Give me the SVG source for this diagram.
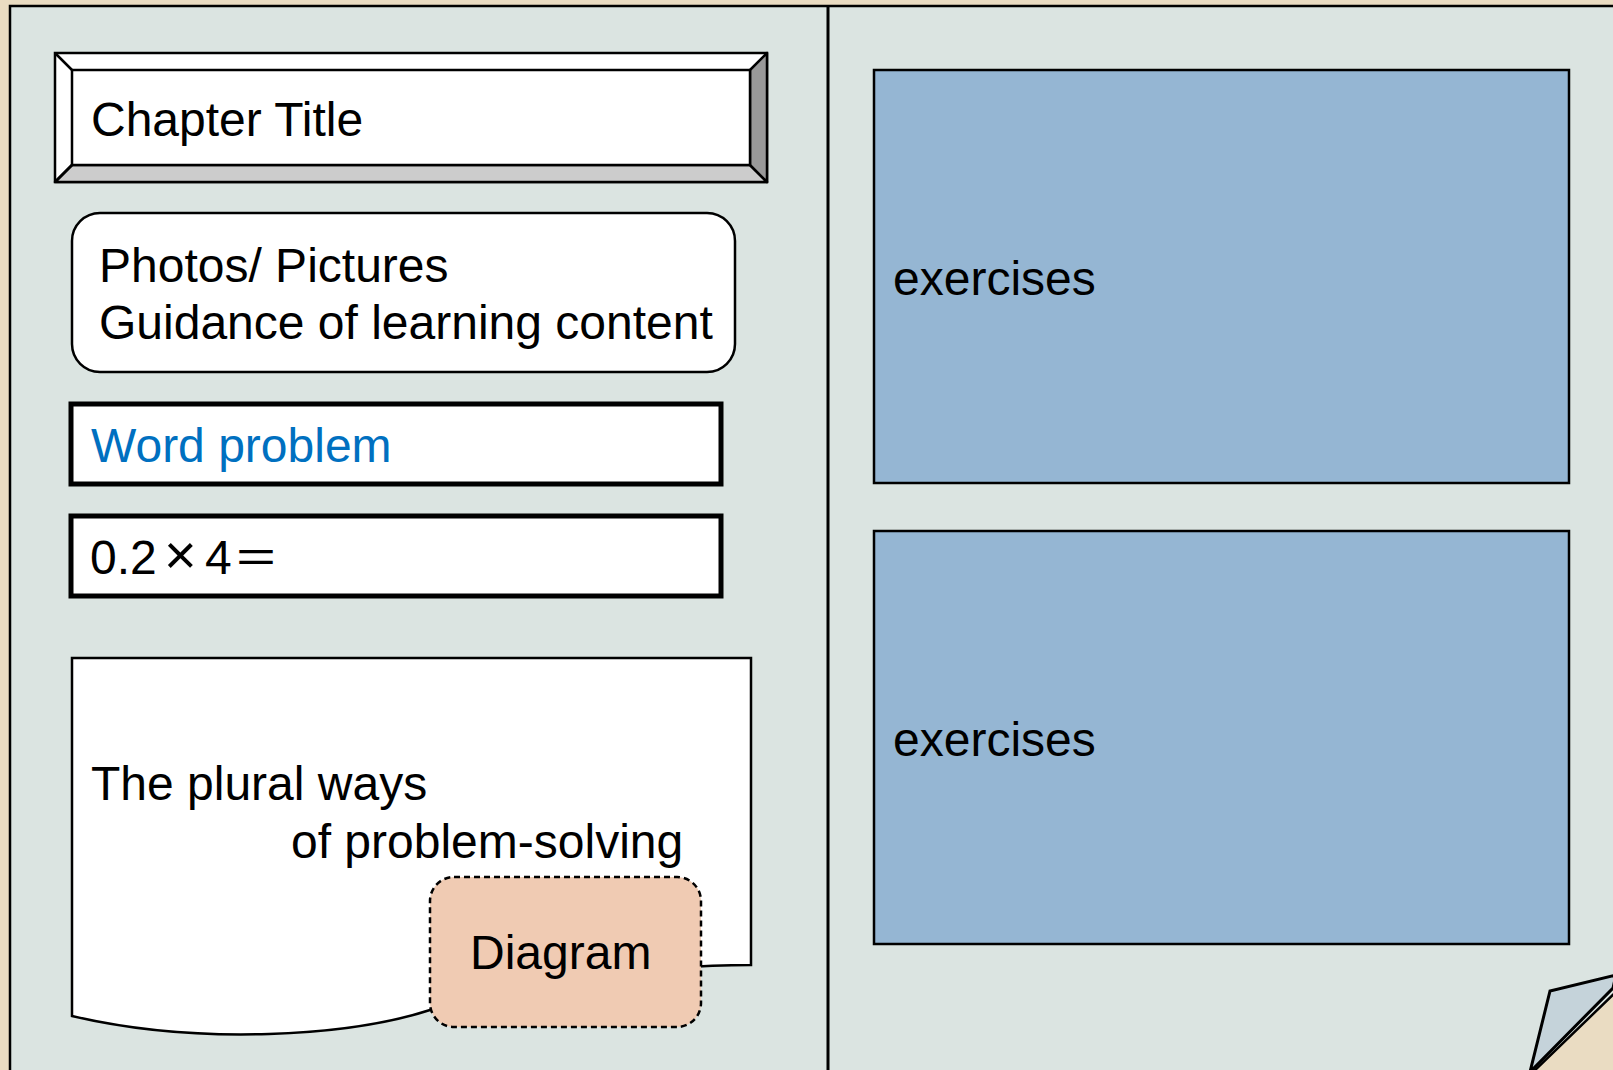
<svg xmlns="http://www.w3.org/2000/svg" width="1613" height="1070" viewBox="0 0 1613 1070">
<style>
text{font-family:"Liberation Sans",Arial,sans-serif;font-size:48px;fill:#000}
.ln{fill:none;stroke:#000;stroke-width:2.5}
.box{fill:#fff;stroke:#000;stroke-width:5}
.ex{fill:#95B6D3;stroke:#000;stroke-width:2.5}
</style>
<rect x="0" y="0" width="1613" height="1070" fill="#EADCC2"/>
<g id="page">
<path d="M10,6 H1620 V988 L1530,1075 H10 Z" fill="#DBE4E1" stroke="#000" stroke-width="2.5"/>
<path d="M1530,1072 L1550,991 L1616,975 L1613,988 Z" fill="#C5D3DA" stroke="#000" stroke-width="3" stroke-linejoin="miter"/>
<line x1="828" y1="6" x2="828" y2="1072" stroke="#000" stroke-width="3"/>
</g>
<g id="chapter-title">
<rect x="55" y="53" width="712" height="129" fill="#fff" stroke="#000" stroke-width="2.5"/>
<path d="M55,182 L72,165 H750 L767,182 Z" fill="#CCCCCC" stroke="#000" stroke-width="2.5" stroke-linejoin="round"/>
<path d="M750,70 L767,53 V182 L750,165 Z" fill="#999999" stroke="#000" stroke-width="2.5" stroke-linejoin="round"/>
<path d="M55,53 L72,70 M55,182 L72,165" class="ln"/>
<rect x="72" y="70" width="678" height="95" fill="#fff" stroke="#000" stroke-width="2.5"/>
<text x="91" y="136">Chapter Title</text>
</g>
<g id="photos">
<rect x="72" y="213" width="663" height="159" rx="28" ry="28" fill="#fff" stroke="#000" stroke-width="2.5"/>
<text x="99" y="282">Photos/ Pictures</text>
<text x="99" y="339">Guidance of learning content</text>
</g>
<g id="word-problem">
<rect x="71" y="404" width="650" height="80" class="box"/>
<text x="91" y="462" style="fill:#0070C0">Word problem</text>
</g>
<g id="equation">
<rect x="71" y="516" width="650" height="80" class="box"/>
<text y="574"><tspan x="90">0.2</tspan><tspan x="164" style="font-size:56px">×</tspan><tspan x="205">4</tspan><tspan x="233" style="font-family:'Noto Sans CJK JP',sans-serif;font-size:46px">＝</tspan></text>
</g>
<g id="plural-ways">
<path d="M72,658 H751 V965 C 640,965 540,985 430,1010 C 350,1036 200,1046 72,1016 Z" fill="#fff" stroke="#000" stroke-width="2.5"/>
<text x="91" y="800">The plural ways</text>
<text x="291" y="858">of problem-solving</text>
</g>
<g id="diagram">
<rect x="430" y="877" width="271" height="150" rx="24" ry="24" fill="#F0CBB3" stroke="#000" stroke-width="2.5" stroke-dasharray="6,4"/>
<text x="470" y="969">Diagram</text>
</g>
<g id="exercises-1">
<rect x="874" y="70" width="695" height="413" class="ex"/>
<text x="893" y="295">exercises</text>
</g>
<g id="exercises-2">
<rect x="874" y="531" width="695" height="413" class="ex"/>
<text x="893" y="756">exercises</text>
</g>
<g id="connectors"></g>
</svg>
